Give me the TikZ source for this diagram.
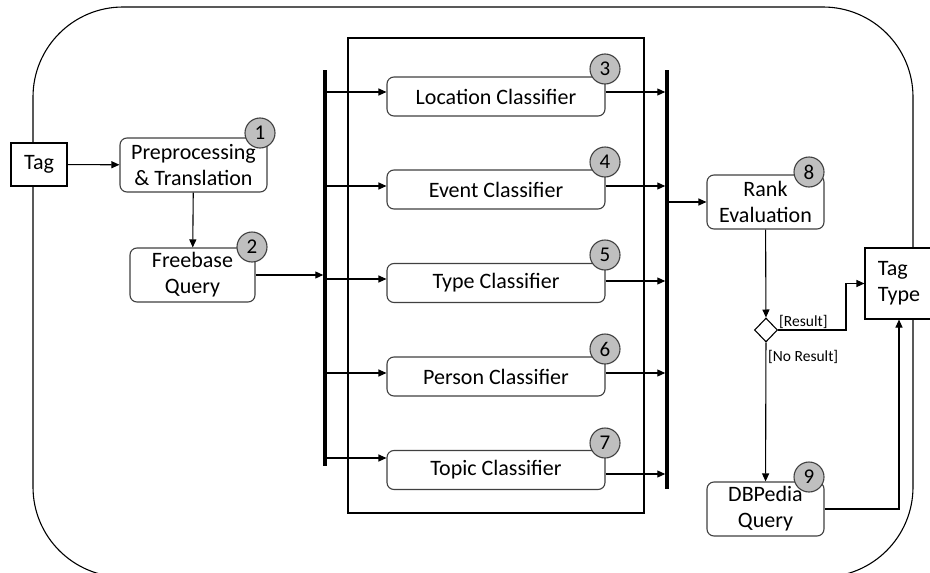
\documentclass[tikz,border=0pt]{standalone}
\usepackage{fontspec}
\setmainfont{Carlito}
\usetikzlibrary{arrows.meta,shapes.geometric,calc}
\definecolor{numfill}{HTML}{BFBFBF}
\definecolor{edgegray}{HTML}{404040}
\begin{document}
\begin{tikzpicture}[x=1pt,y=-1pt,
  every node/.style={font=\fontsize{22}{26}\selectfont},
  act/.style={draw=edgegray, line width=1.1pt, rounded corners=7pt, align=center, inner sep=0pt, fill=white},
  clf/.style={act, minimum width=218pt, minimum height=39pt},
  plainbox/.style={draw, line width=1.1pt, fill=white, inner sep=0pt},
  num/.style={circle, draw=edgegray, fill=numfill, line width=1.1pt, minimum size=30pt, inner sep=0pt, font=\fontsize{21}{21}\selectfont},
  arr/.style={-{Triangle[length=8pt,width=7pt]}, line width=1.1pt},
  bar/.style={line width=3.5pt},
  guard/.style={font=\fontsize{15.5}{15.5}\selectfont, inner sep=0pt}]
\clip (0,0) rectangle (930,573);

% activity boundary
\draw[line width=1.1pt, rounded corners=90pt] (33,7) rectangle (913,577);

% classifier region
\draw[line width=1.1pt] (348,38) rectangle (644,513);

% fork and join bars
\coordinate (lbtop) at (325,70);
\coordinate (lbbot) at (325,466);
\coordinate (rbtop) at (667,70);
\coordinate (rbbot) at (667,489);
\draw[bar] (lbtop) -- (lbbot);
\draw[bar] (rbtop) -- (rbbot);

% nodes
\node[plainbox, minimum width=56pt, minimum height=43pt] (tag) at (39,164.5) {Tag};
\node[act, minimum width=147pt, minimum height=54pt] (prep) at (193.5,165) {Preprocessing\\\& Translation};
\node[act, minimum width=125pt, minimum height=54pt] (free) at (192.5,275) {Freebase\\Query};

\node[clf] (loc) at (496,96.5) {Location Classifier};
\node[clf] (evt) at (496,189.5) {Event Classifier};
\node[clf] (typ) at (496,283) {Type Classifier};
\node[clf] (per) at (496,376.5) {Person Classifier};
\node[clf] (top) at (496,470) {Topic Classifier};

\node[act, minimum width=117pt, minimum height=54pt] (rank) at (765.5,202) {Rank\\Evaluation};
\node[act, minimum width=117pt, minimum height=54pt] (db) at (765.5,509) {DBPedia\\Query};
\node[diamond, draw, line width=1.1pt, fill=white, minimum width=23pt, minimum height=24pt, inner sep=0pt] (dia) at (766,330) {};
\node[plainbox, minimum width=68pt, minimum height=71pt, align=left] (tt) at (899,283.5) {Tag\\Type};

% step numbers
\node[num] (n1) at (260,133) {1};
\node[num] (n2) at (252,247) {2};
\node[num] (n3) at (605,69) {3};
\node[num] (n4) at (605,162) {4};
\node[num] (n5) at (605,255) {5};
\node[num] (n6) at (605,349) {6};
\node[num] (n7) at (605,443) {7};
\node[num] (n8) at (809,172) {8};
\node[num] (n9) at (809,477) {9};

% flow
\draw[arr] (tag) -- (prep);
\draw[arr] (prep) -- (free);
\draw[arr, shorten >=1.75pt] (free.east) -- (free.east -| lbtop);

\foreach \n/\din/\dout in {loc/4.5/4.5, evt/3.5/3.5, typ/4/2, per/3.5/3.5, top/12/-4} {
  \draw[arr] ([yshift=\din pt]\n.west -| lbtop) -- ([yshift=\din pt]\n.west);
  \draw[arr, shorten >=1.75pt] ([yshift=\dout pt]\n.east) -- ([yshift=\dout pt]\n.east -| rbtop);
}

\draw[arr] (rank.west -| rbtop) -- (rank.west);
\draw[arr] (rank) -- (dia);
\coordinate (bend) at (846,283.5);
\draw[arr] (dia.east) -| (bend) -- (tt.west);
\draw[arr] (dia) -- (db);
\draw[arr] (db.east) -| (tt.south);

% guards
\node[guard, anchor=base west] at (779,326) {[Result]};
\node[guard, anchor=base west] at (768,361) {[No Result]};
\end{tikzpicture}
\end{document}
